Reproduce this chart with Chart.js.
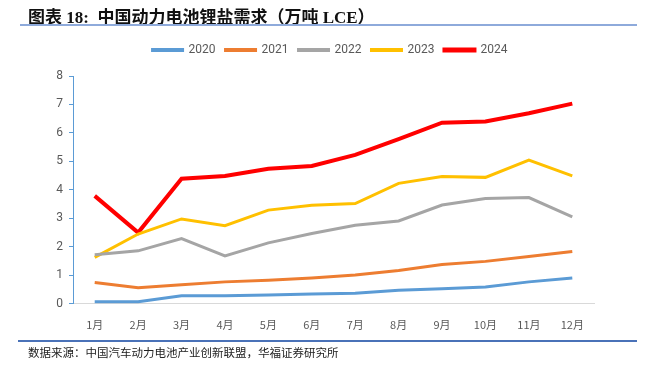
<!DOCTYPE html>
<html>
<head>
<meta charset="utf-8">
<script src="https://cdn.jsdelivr.net/npm/chart.js@4"></script>
<style>
  html, body { margin: 0; padding: 0; background: #fff; }
  #wrap { position: relative; width: 645px; height: 375px; overflow: hidden; }
  #chart { position: absolute; left: 0; top: 0; }
  .title {
    position: absolute; left: 28px; top: 3px;
    font: bold 17px "Liberation Serif", "Noto Sans CJK SC", serif;
    color: #111;
  }
  .topline { position: absolute; left: 20px; top: 24px; width: 617px; height: 2px; background: #8eaadb; }
  .footline { position: absolute; left: 18px; top: 340px; width: 619px; height: 2px; background: #4a72b8; }
  .source {
    position: absolute; left: 28px; top: 344px;
    font: 11.5px "Noto Sans CJK SC", sans-serif; color: #222;
  }
</style>
</head>
<body>
<div id="wrap">
  <canvas id="chart" width="645" height="375"></canvas>
  <div class="title">图表 18:&nbsp; 中国动力电池锂盐需求（万吨 LCE）</div>
  <div class="topline"></div>
  <div class="footline"></div>
  <div class="source">数据来源：中国汽车动力电池产业创新联盟，华福证券研究所</div>
</div>
<script>
const months = ["1月", "2月", "3月", "4月", "5月", "6月", "7月", "8月", "9月", "10月", "11月", "12月"];

const y2020 = [0.07, 0.07, 0.28, 0.28, 0.31, 0.34, 0.37, 0.48, 0.53, 0.59, 0.77, 0.91];
const y2021 = [0.75, 0.56, 0.67, 0.77, 0.83, 0.91, 1.01, 1.17, 1.38, 1.49, 1.66, 1.84];
const y2022 = [1.72, 1.86, 2.29, 1.68, 2.14, 2.47, 2.76, 2.91, 3.47, 3.70, 3.73, 3.05];
const y2023 = [1.63, 2.45, 2.98, 2.74, 3.29, 3.46, 3.52, 4.23, 4.47, 4.44, 5.05, 4.49];
const y2024 = [3.79, 2.50, 4.39, 4.49, 4.74, 4.84, 5.23, 5.78, 6.36, 6.40, 6.69, 7.03];

function series(label, data, color, width) {
    return {
        label: label,
        data: data,
        borderColor: color,
        backgroundColor: color,
        borderWidth: width,
        pointRadius: 0,
        tension: 0,
        fill: false,
    };
}

// extra room under the legend, and nudge it right so it sits centred on the page
const legendTweak = {
    id: "legendTweak",
    beforeInit(chart) {
        const fit = chart.legend.fit;
        chart.legend.fit = function() {
            fit.bind(chart.legend)();
            this.height += 10;
        };
    },
    afterLayout(chart) {
        chart.legend.left += 23;
        chart.legend.right += 23;
    }
};

new Chart(document.getElementById("chart"), {
    type: "line",
    data: {
        labels: months,
        datasets: [
            series("2020", y2020, "#5b9bd5", 3),
            series("2021", y2021, "#ed7d31", 3),
            series("2022", y2022, "#a5a5a5", 3),
            series("2023", y2023, "#ffc000", 3),
            series("2024", y2024, "#ff0000", 4),
        ]
    },
    plugins: [legendTweak],
    options: {
        responsive: false,
        animation: false,
        layout: {
            padding: { left: 20, right: 51, top: 34, bottom: 30 }
        },
        plugins: {
            legend: {
                display: true,
                position: "top",
                labels: {
                    boxWidth: 30,
                    boxHeight: 1,
                    padding: 10,
                    color: "#595959",
                    font: { family: "Roboto, 'Noto Sans', sans-serif", size: 12 },
                },
            },
            tooltip: { enabled: false },
        },
        scales: {
            x: {
                offset: true,
                grid: { display: false, drawTicks: false },
                border: { color: "#d9d9d9", width: 1 },
                ticks: {
                    color: "#595959",
                    padding: 14,
                    maxRotation: 0,
                    autoSkip: false,
                    font: { family: "'Noto Sans CJK SC', sans-serif", size: 11 },
                },
            },
            y: {
                min: 0,
                max: 8,
                afterFit(axis) { axis.width = 53; },
                grid: { drawOnChartArea: false, color: "#5b9bd5", tickLength: 4 },
                border: { color: "#5b9bd5", width: 1 },
                ticks: {
                    stepSize: 1,
                    color: "#595959",
                    padding: 6,
                    font: { family: "Roboto, 'Noto Sans', sans-serif", size: 12 },
                },
            },
        },
    },
});
</script>
</body>
</html>
